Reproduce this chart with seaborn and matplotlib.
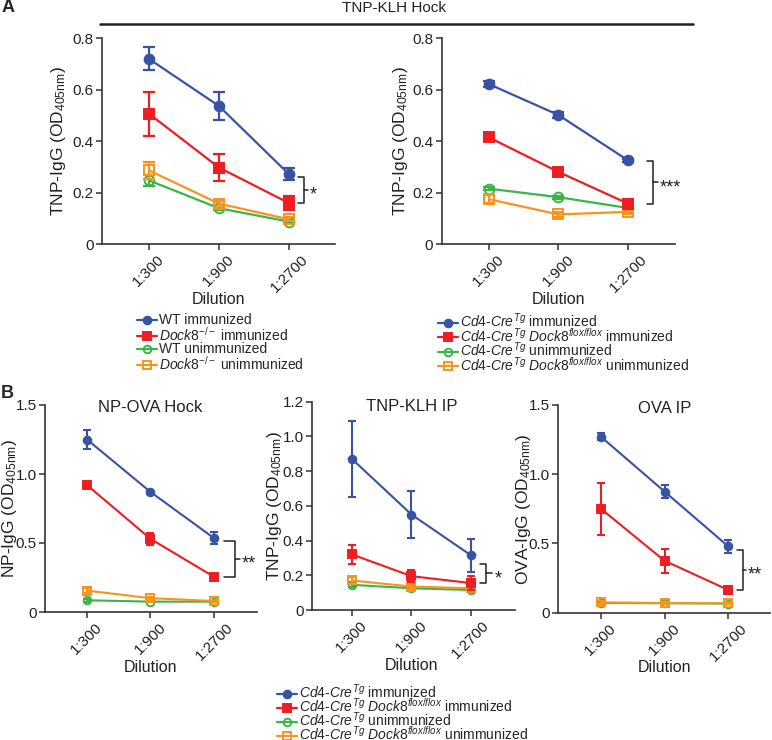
import numpy as np
import pandas as pd
import seaborn as sns
import matplotlib.pyplot as plt
from matplotlib.lines import Line2D
from matplotlib import transforms

sns.set_style('ticks')
plt.rcParams['font.family'] = ['Liberation Sans', 'DejaVu Sans']
plt.rcParams['mathtext.fontset'] = 'custom'
plt.rcParams['mathtext.rm'] = 'Liberation Sans'
plt.rcParams['mathtext.it'] = 'Liberation Sans:italic'
plt.rcParams['mathtext.bf'] = 'Liberation Sans:bold'

# data (mean, SEM)
dilutions = ['1:300', '1:900', '1:2700']
groups = ['imm', 'ko_imm', 'unimm', 'ko_unimm']

# A left: WT vs Dock8-/-
a1_imm = [0.720, 0.537, 0.272]
a1_imm_err = [0.045, 0.053, 0.024]
a1_ko_imm = [0.507, 0.298, 0.160]
a1_ko_imm_err = [0.086, 0.052, 0.027]
a1_unimm = [0.248, 0.140, 0.088]
a1_unimm_err = [0.022, 0.006, 0.005]
a1_ko_unimm = [0.287, 0.158, 0.097]
a1_ko_unimm_err = [0.033, 0.012, 0.008]

# A right: Cd4-Cre vs Cd4-Cre Dock8 flox/flox
a2_imm = [0.622, 0.502, 0.326]
a2_imm_err = [0.012, 0.013, 0.007]
a2_ko_imm = [0.415, 0.281, 0.158]
a2_ko_imm_err = [0.010, 0.014, 0.017]
a2_unimm = [0.216, 0.183, 0.141]
a2_unimm_err = [0.005, 0.006, 0.006]
a2_ko_unimm = [0.175, 0.116, 0.126]
a2_ko_unimm_err = [0.015, 0.010, 0.008]

# B: NP-OVA Hock
b1_imm = [1.25, 0.87, 0.535]
b1_imm_err = [0.07, 0.015, 0.045]
b1_ko_imm = [0.92, 0.53, 0.255]
b1_ko_imm_err = [0.02, 0.045, 0.015]
b1_unimm = [0.085, 0.075, 0.075]
b1_unimm_err = [0.010, 0.005, 0.005]
b1_ko_unimm = [0.155, 0.100, 0.080]
b1_ko_unimm_err = [0.020, 0.010, 0.010]

# B: TNP-KLH IP
b2_imm = [0.87, 0.55, 0.315]
b2_imm_err = [0.22, 0.135, 0.095]
b2_ko_imm = [0.32, 0.195, 0.155]
b2_ko_imm_err = [0.055, 0.035, 0.038]
b2_unimm = [0.145, 0.125, 0.115]
b2_unimm_err = [0.015, 0.008, 0.010]
b2_ko_unimm = [0.170, 0.135, 0.125]
b2_ko_unimm_err = [0.022, 0.012, 0.015]

# B: OVA IP
b3_imm = [1.27, 0.875, 0.48]
b3_imm_err = [0.025, 0.05, 0.048]
b3_ko_imm = [0.75, 0.375, 0.165]
b3_ko_imm_err = [0.188, 0.085, 0.028]
b3_unimm = [0.070, 0.068, 0.066]
b3_unimm_err = [0.005, 0.004, 0.004]
b3_ko_unimm = [0.075, 0.070, 0.068]
b3_ko_unimm_err = [0.012, 0.008, 0.008]

colors = {'imm': '#3953A4', 'ko_imm': '#EE1D23', 'unimm': '#39B54A', 'ko_unimm': '#F7941E'}
markers = {'imm': 'o', 'ko_imm': 's', 'unimm': 'o', 'ko_unimm': 's'}
filled = {'imm': True, 'ko_imm': True, 'unimm': False, 'ko_unimm': False}
draw_order = ['unimm', 'ko_unimm', 'ko_imm', 'imm']

wt_labels = ['WT immunized', r'$\mathit{Dock8}^{-/-}$ immunized',
             'WT unimmunized', r'$\mathit{Dock8}^{-/-}$ unimmunized']
cre = r'$\mathit{Cd4}$-$\mathit{Cre}^{\mathit{Tg}}$'
flox = r'$\mathit{Dock8}^{\mathit{flox/flox}}$'
cre_labels = [cre + ' immunized', cre + ' ' + flox + ' immunized',
              cre + ' unimmunized', cre + ' ' + flox + ' unimmunized']

W, H = 772, 740
fig = plt.figure(figsize=(W / 100, H / 100), dpi=100)


def px_rect(x0, x1, ytop, ybot):
    return [x0 / W, 1 - ybot / H, (x1 - x0) / W, (ybot - ytop) / H]


def panel(rect, vals, errs, yticks, yticklabels, ylabel, xlim, ylab_x, big,
          bracket, stars, title=None, title_y=0.99):
    ax = fig.add_axes(rect)
    pos = np.arange(len(dilutions))
    rows = []
    for g in groups:
        for i, d in enumerate(dilutions):
            rows.append({'group': g, 'pos': pos[i], 'od': vals[g][i], 'err': errs[g][i]})
    df = pd.DataFrame(rows)
    lw = 1.6 if big else 1.5
    ms = 7 if big else 5.5
    for z, g in enumerate(draw_order):
        sub = df[df['group'] == g]
        c = colors[g]
        ax.errorbar(sub['pos'], sub['od'], yerr=sub['err'], fmt='none', ecolor=c,
                    elinewidth=lw, capsize=4 if big else 3, capthick=lw, zorder=2 + z)
        sns.lineplot(data=sub, x='pos', y='od', ax=ax, color=c, lw=lw,
                     marker=markers[g], markersize=ms,
                     markerfacecolor=c if filled[g] else 'none',
                     markeredgecolor=c, markeredgewidth=1.4,
                     errorbar=None, legend=False, zorder=2.5 + z)
    ax.set_xlim(*xlim)
    ax.set_ylim(yticks[0], yticks[-1])
    ax.set_yticks(yticks, yticklabels)
    ax.set_xticks(pos, dilutions, rotation=45, ha='center')
    off = transforms.ScaledTranslation(4 / 72, -1 / 72, fig.dpi_scale_trans)
    for lab in ax.get_xticklabels():
        lab.set_transform(lab.get_transform() + off)
        lab.set_fontsize(11)
    sns.despine(ax=ax)
    for s in ['left', 'bottom']:
        ax.spines[s].set_linewidth(1.2)
        ax.spines[s].set_color('#333333')
    ax.tick_params(length=4, width=1.1, color='#333333', labelsize=11,
                   labelcolor='#222222', pad=2)
    ax.set_ylabel(ylabel, fontsize=12.5, color='#222222')
    ax.yaxis.set_label_coords(ylab_x, 0.5)
    ax.set_xlabel('Dilution', fontsize=11.5, color='#222222')
    mid_frac = (1 - xlim[0]) / (xlim[1] - xlim[0])
    ax.xaxis.set_label_coords(mid_frac, -0.23)
    # significance bracket between the two immunized groups at 1:2700
    a, b, c_, d = bracket
    top = vals['imm'][-1] - 0.5 * errs['imm'][-1]
    bot = vals['ko_imm'][-1]
    mid = (top + bot) / 2
    x2 = pos[-1]
    ax.plot([x2 + a, x2 + b, x2 + b, x2 + a], [top, top, bot, bot], color='#222222',
            lw=1.1, clip_on=False)
    ax.plot([x2 + b, x2 + c_], [mid, mid], color='#222222', lw=1.1, clip_on=False)
    tr = transforms.offset_copy(ax.transData, fig=fig, y=-7, units='points')
    ax.text(x2 + d, mid, stars, transform=tr, fontsize=13, ha='left', va='baseline',
            color='#222222', clip_on=False)
    if title:
        ax.text(mid_frac, title_y, title, transform=ax.transAxes, ha='center',
                va='center', fontsize=12, color='#222222')
    return ax


def pack(prefix):
    g = globals()
    vals = {k: g[prefix + '_' + k] for k in groups}
    errs = {k: g[prefix + '_' + k + '_err'] for k in groups}
    return vals, errs


od = r'(OD$_{\mathregular{405nm}}$)'
ya = [0, 0.2, 0.4, 0.6, 0.8]
ya_lab = ['0', '0.2', '0.4', '0.6', '0.8']
yb = [0, 0.5, 1.0, 1.5]
yb_lab = ['0', '0.5', '1.0', '1.5']
yc = [0, 0.2, 0.4, 0.6, 0.8, 1.0, 1.2]
yc_lab = ['0', '0.2', '0.4', '0.6', '0.8', '1.0', '1.2']

v, e = pack('a1')
panel(px_rect(102, 335, 38.3, 244.3), v, e, ya, ya_lab, 'TNP-IgG ' + od,
      (-0.671, 2.657), -0.145, True, (0.13, 0.21, 0.27, 0.30), '*')
v, e = pack('a2')
panel(px_rect(441.7, 675, 38.3, 244.3), v, e, ya, ya_lab, 'TNP-IgG ' + od,
      (-0.68, 2.676), -0.138, True, (0.27, 0.355, 0.43, 0.45), '***')
v, e = pack('b1')
panel(px_rect(45, 257, 405, 612), v, e, yb, yb_lab, 'NP-IgG ' + od,
      (-0.661, 2.677), -0.125, False, (0.15, 0.33, 0.41, 0.43), '**',
      'NP-OVA Hock', 0.99)
v, e = pack('b2')
panel(px_rect(312, 515, 401.7, 610), v, e, yc, yc_lab, 'TNP-IgG ' + od,
      (-0.672, 2.74), -0.14, False, (0.15, 0.26, 0.35, 0.40), '*',
      'TNP-KLH IP', 0.976)
v, e = pack('b3')
panel(px_rect(558, 770, 405, 612.7), v, e, yb, yb_lab, 'OVA-IgG ' + od,
      (-0.677, 2.66), -0.12, False, (0.14, 0.23, 0.29, 0.31), '**',
      'OVA IP', 0.984)

# header and panel letters
fig.text(394 / W, 1 - 8.5 / H, 'TNP-KLH Hock', ha='center', va='center',
         fontsize=11, color='#222222')
fig.add_artist(Line2D([100 / W, 693 / W], [1 - 24 / H] * 2, lw=1.8, color='#222222'))
fig.text(2 / W, 1 - 8 / H, 'A', ha='left', va='center', fontsize=13, weight='bold')
fig.text(1 / W, 1 - 393 / H, 'B', ha='left', va='center', fontsize=13, weight='bold')


def legend_rows(labels, x_px, y0_px, step_px):
    # one legend per row keeps the row pitch even despite superscripts
    for i, (g, lab) in enumerate(zip(groups, labels)):
        c = colors[g]
        h = Line2D([], [], color=c, lw=1.6, marker=markers[g], markersize=5.5,
                   markerfacecolor=c if filled[g] else 'none',
                   markeredgecolor=c, markeredgewidth=1.4)
        fig.legend([h], [lab], loc='center left',
                   bbox_to_anchor=(x_px / W, 1 - (y0_px + i * step_px) / H),
                   frameon=False, fontsize=10, handlelength=1.45, handletextpad=0.15,
                   borderpad=0, borderaxespad=0, handleheight=0.5)


legend_rows(wt_labels, 137, 320, 14.5)
legend_rows(cre_labels, 438, 321, 14.5)
legend_rows(cre_labels, 277, 692, 14)

fig.savefig('out.png', dpi=100)
